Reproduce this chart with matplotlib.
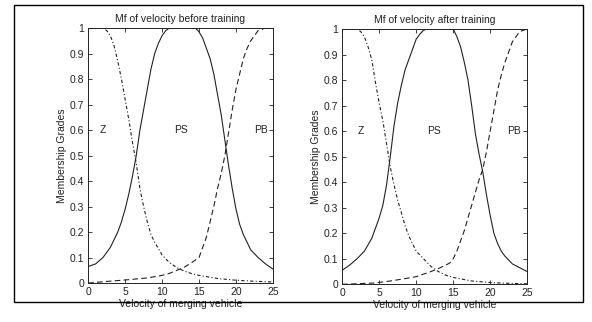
import matplotlib
matplotlib.use("Agg")
import matplotlib.pyplot as plt
from matplotlib.patches import Rectangle

# membership functions
# before training
ps_b_x = [0, 1, 2, 3, 4, 4.5, 5, 5.5, 6, 6.5, 7, 7.5, 8, 8.5, 9, 9.5, 10, 10.5, 11, 14.5, 15, 15.5, 16, 16.5, 17,
          17.5, 18, 18.5, 19, 19.5, 20, 20.5, 21, 21.5, 22, 23, 24, 25]
ps_b_y = [0.065, 0.075, 0.1, 0.14, 0.2, 0.24, 0.29, 0.35, 0.42, 0.5, 0.6, 0.68, 0.76, 0.84, 0.9, 0.94, 0.97, 0.99, 1.0, 1.0, 0.985, 0.96, 0.92, 0.88, 0.82,
          0.74, 0.66, 0.56, 0.46, 0.37, 0.29, 0.23, 0.19, 0.16, 0.13, 0.1, 0.075, 0.055]
z_b_x = [0, 2, 2.5, 3, 3.5, 4, 4.5, 5, 5.5, 6, 6.5, 7, 7.5, 8, 8.5, 9, 10, 11, 12, 13, 14, 15, 17.5, 20, 22.5, 25]
z_b_y = [1.0, 1.0, 0.99, 0.97, 0.93, 0.87, 0.8, 0.72, 0.64, 0.55, 0.47, 0.37, 0.3, 0.24, 0.19, 0.16, 0.11, 0.08, 0.06, 0.047, 0.037, 0.03, 0.018, 0.011, 0.007, 0.004]
pb_b_x = [0, 2, 5, 8, 10, 11, 12, 13, 14, 15, 15.5, 16, 16.5, 17, 17.5, 18, 18.5, 19, 19.5, 20, 20.5, 21, 21.5, 22, 22.5, 23, 24, 25]
pb_b_y = [0.0, 0.005, 0.012, 0.02, 0.03, 0.038, 0.05, 0.062, 0.08, 0.1, 0.14, 0.18, 0.24, 0.3, 0.37, 0.43, 0.5, 0.59, 0.68, 0.76, 0.82, 0.88, 0.92, 0.95, 0.97, 0.99, 1.0, 1.0]

# after training
ps_a_x = [0, 1, 2, 3, 4, 4.5, 5, 5.5, 6, 6.5, 7, 7.5, 8, 8.5, 9, 9.5, 10, 10.5, 11, 11.5, 15, 15.5, 16, 16.5, 17,
          17.5, 18, 18.5, 19, 19.5, 20, 20.5, 21, 21.5, 22, 23, 24, 25]
ps_a_y = [0.055, 0.075, 0.1, 0.13, 0.18, 0.22, 0.26, 0.31, 0.39, 0.5, 0.62, 0.71, 0.78, 0.84, 0.88, 0.92, 0.96, 0.98, 0.995, 1.0, 1.0, 0.97, 0.93, 0.87, 0.8,
          0.7, 0.59, 0.51, 0.44, 0.35, 0.27, 0.2, 0.16, 0.13, 0.11, 0.08, 0.065, 0.05]
z_a_x = [0, 2, 2.5, 3, 3.5, 4, 4.5, 5, 5.5, 6, 6.5, 7, 7.5, 8, 8.5, 9, 9.5, 10, 11, 12, 13, 14, 15, 17.5, 20, 22.5, 25]
z_a_y = [1.0, 1.0, 0.99, 0.97, 0.93, 0.88, 0.79, 0.71, 0.64, 0.55, 0.46, 0.39, 0.33, 0.28, 0.23, 0.19, 0.16, 0.13, 0.1, 0.07, 0.05, 0.036, 0.027, 0.013, 0.007, 0.004, 0.002]
pb_a_x = [0, 4.3, 6.5, 8, 10, 11, 12, 13, 14, 14.6, 15, 15.5, 16, 16.5, 17, 17.5, 18, 18.5, 19, 19.5, 20, 20.5, 21, 21.5, 22, 22.5, 23, 23.5, 24, 25]
pb_a_y = [0.0, 0.005, 0.013, 0.02, 0.03, 0.04, 0.05, 0.062, 0.075, 0.085, 0.1, 0.13, 0.17, 0.21, 0.26, 0.31, 0.36, 0.41, 0.45, 0.52, 0.6, 0.68, 0.76, 0.82, 0.87, 0.91, 0.95, 0.97, 0.99, 1.0]

titles = ["Mf of velocity before training", "Mf of velocity after training"]
xlab = "Velocity of merging vehicle"
ylab = "Membership Grades"
yticks = [0, 0.1, 0.2, 0.3, 0.4, 0.5, 0.6, 0.7, 0.8, 0.9, 1]
ytick_labels = ["0", "0.1", "0.2", "0.3", "0.4", "0.5", "0.6", "0.7", "0.8", "0.9", "1"]
label_pos_b = {"Z": 2.0, "PS": 12.6, "PB": 23.4}
label_pos_a = {"Z": 2.5, "PS": 12.4, "PB": 23.2}

plt.rcParams['font.family'] = ['Liberation Sans', 'DejaVu Sans']
fs = 7.5
col = '#222222'

fig = plt.figure(figsize=(5.92, 3.22), dpi=100)
fig.patches.append(Rectangle((14/592, 1-302/322), (583-14)/592, (302-5)/322,
                             transform=fig.transFigure, fill=False, ec='black', lw=1.0))

ax1 = fig.add_axes([0.149, 0.121, 0.312, 0.792])
ax2 = fig.add_axes([0.578, 0.117, 0.3125, 0.793])

sets = [
    (ax1, (z_b_x, z_b_y), (ps_b_x, ps_b_y), (pb_b_x, pb_b_y), label_pos_b, titles[0]),
    (ax2, (z_a_x, z_a_y), (ps_a_x, ps_a_y), (pb_a_x, pb_a_y), label_pos_a, titles[1]),
]
for ax, z, ps, pb, lp, t in sets:
    ax.plot(z[0], z[1], color=col, lw=0.8, ls=(0, (3, 2, 1, 2)))
    ax.plot(ps[0], ps[1], color=col, lw=0.8, ls='-')
    ax.plot(pb[0], pb[1], color=col, lw=0.8, ls=(0, (5, 3)))
    for name, xp in lp.items():
        ax.text(xp, 0.6, name, fontsize=fs, ha='center', va='center', color=col)
    ax.set_xlim(0, 25)
    ax.set_ylim(0, 1)
    ax.set_xticks([0, 5, 10, 15, 20, 25])
    ax.set_yticks(yticks)
    ax.set_yticklabels(ytick_labels)
    ax.tick_params(direction='in', length=3, width=0.6, labelsize=fs, top=True, right=True, pad=3, colors=col)
    for s in ax.spines.values():
        s.set_linewidth(0.7)
        s.set_color(col)
    ax.set_title(t, fontsize=fs, pad=4, color=col)
    ax.set_xlabel(xlab, fontsize=fs, labelpad=1, color=col)
    ax.set_ylabel(ylab, fontsize=fs, labelpad=2, color=col)

fig.savefig("out.png", dpi=100)
